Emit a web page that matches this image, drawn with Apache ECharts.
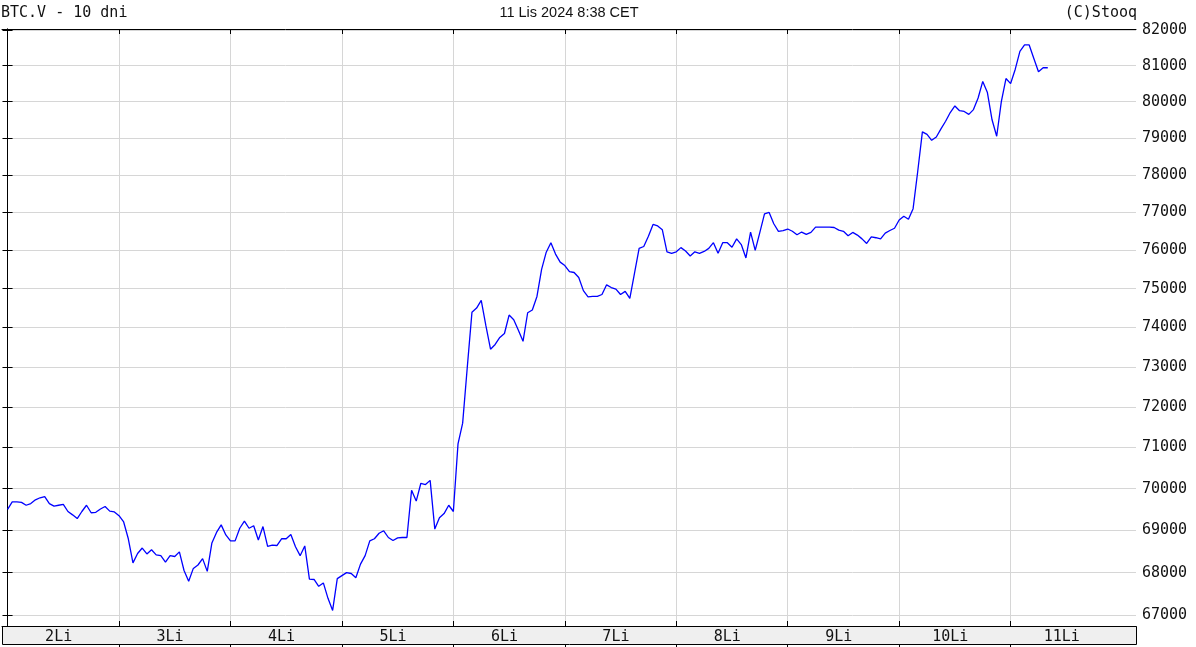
<!DOCTYPE html>
<html>
<head>
<meta charset="utf-8">
<title>BTC.V - 10 dni</title>
<script src="https://cdn.jsdelivr.net/npm/echarts@6/dist/echarts.min.js"></script>
<style>
html, body { margin: 0; padding: 0; background: #fff; }
#chart { width: 1196px; height: 647px; }
</style>
</head>
<body>
<div id="chart"></div>
<script>
// hourly quotes, hour 0 = first bar of 2 Nov
var startHour = 0;
var prices = [
  // 2Li
  69500, 69680, 69680, 69670, 69600, 69640, 69730, 69780, 69810, 69640, 69580, 69600,
  69620, 69450, 69370, 69280, 69450, 69600, 69420, 69430, 69510, 69570, 69460, 69440,
  // 3Li
  69350, 69200, 68800, 68230, 68450, 68580, 68440, 68540, 68420, 68400, 68250, 68400,
  68380, 68490, 68050, 67800, 68100, 68180, 68330, 68030, 68700, 68950, 69130, 68890,
  // 4Li
  68750, 68750, 69050, 69220, 69050, 69110, 68770, 69090, 68620, 68650, 68640, 68800,
  68800, 68900, 68610, 68400, 68630, 67850, 67840, 67680, 67760, 67400, 67120, 67860,
  // 5Li
  67930, 68000, 67980, 67880, 68200, 68400, 68750, 68800, 68930, 68990, 68830, 68760,
  68820, 68830, 68830, 69960, 69700, 70130, 70100, 70200, 69030, 69300, 69400, 69600,
  // 6Li
  69450, 71090, 71600, 73000, 74390, 74500, 74700, 74050, 73450, 73570, 73750, 73850,
  74320, 74200, 73930, 73650, 74380, 74450, 74800, 75500, 75950, 76200, 75900, 75690,
  // 7Li
  75600, 75440, 75420, 75290, 74950, 74790, 74800, 74800, 74850, 75100, 75030, 74990,
  74850, 74930, 74750, 75400, 76050, 76100, 76370, 76680, 76640, 76540, 75960, 75920,
  // 8Li
  75960, 76070, 75980, 75850, 75960, 75920, 75970, 76050, 76200, 75920, 76200, 76200,
  76080, 76300, 76150, 75800, 76480, 76000, 76470, 76960, 77000, 76700, 76500, 76520,
  // 9Li
  76560, 76500, 76410, 76480, 76420, 76470, 76610, 76610, 76610, 76610, 76600, 76530,
  76500, 76380, 76470, 76400, 76300, 76180, 76350, 76330, 76300, 76450, 76520, 76580,
  // 10Li
  76800, 76900, 76820, 77100, 78100, 79170, 79100, 78940, 79030, 79250, 79460, 79700,
  79880, 79750, 79730, 79650, 79780, 80100, 80560, 80250, 79500, 79050, 80000, 80640,
  // 11Li
  80500, 80900, 81400, 81580, 81580, 81200, 80830, 80940, 80940
];

var dayLabels = ['2Li', '3Li', '4Li', '5Li', '6Li', '7Li', '8Li', '9Li', '10Li', '11Li'];
var dayTicks = [24, 48, 72, 96, 120, 144, 168, 192, 216];
var dayLabelHours = [11, 35, 59, 83, 107, 131, 155, 179, 203, 227];
var priceLevels = [67000, 68000, 69000, 70000, 71000, 72000, 73000, 74000,
                   75000, 76000, 77000, 78000, 79000, 80000, 81000, 82000];

var FONT = 'DejaVu Sans Mono';
var hourMin = -1.2, hourMax = 243;
var priceMin = 66760, priceMax = 82030;

// log price scale
var lnLevels = priceLevels.map(function (p) { return Math.log(p); });
var lineData = prices.map(function (p, i) { return [startHour + i, Math.log(p)]; });

var chart = echarts.init(document.getElementById('chart'));

var xBase = { type: 'value', min: hourMin, max: hourMax, gridIndex: 0 };
var yBase = { type: 'value', min: Math.log(priceMin), max: Math.log(priceMax), gridIndex: 0, scale: true };

chart.setOption({
  animation: false,
  grid: { left: 2, right: 60, top: 29, bottom: 21, containLabel: false },
  xAxis: [
    echarts.util.merge({
      position: 'bottom',
      axisLine: { lineStyle: { color: '#000', width: 1 } },
      axisTick: { customValues: dayTicks, inside: true, length: 5, lineStyle: { color: '#000' } },
      axisLabel: {
        customValues: dayLabelHours,
        margin: 4,
        fontFamily: FONT,
        fontSize: 15,
        color: '#111',
        formatter: function (v) { return dayLabels[Math.round((v - 11) / 24)]; }
      },
      splitLine: { show: true, lineStyle: { color: '#d6d6d6', width: 1 } }
    }, xBase, true),
    echarts.util.merge({
      position: 'top',
      axisLine: { lineStyle: { color: '#000', width: 1 } },
      axisTick: { customValues: dayTicks, inside: true, length: 5, lineStyle: { color: '#000' } },
      axisLabel: { show: false },
      splitLine: { show: false }
    }, xBase, true),
    echarts.util.merge({
      position: 'bottom',
      offset: 18,
      axisLine: { show: false },
      axisTick: { customValues: dayTicks, inside: false, length: 3, lineStyle: { color: '#000' } },
      axisLabel: { show: false },
      splitLine: { show: false }
    }, xBase, true)
  ],
  yAxis: [
    echarts.util.merge({
      position: 'right',
      axisLine: { show: true, lineStyle: { color: '#000', width: 1 } },
      axisTick: { show: true, customValues: lnLevels, inside: true, length: 5, lineStyle: { color: '#000' } },
      axisLabel: {
        customValues: lnLevels,
        margin: 6,
        fontFamily: FONT,
        fontSize: 15,
        color: '#111',
        formatter: function (v) { return String(Math.round(Math.exp(v) / 1000) * 1000); }
      },
      splitLine: { show: true, lineStyle: { color: '#d6d6d6', width: 1 } }
    }, yBase, true),
    echarts.util.merge({
      position: 'left',
      axisLine: { show: true, lineStyle: { color: '#000', width: 1 } },
      axisTick: { show: true, customValues: lnLevels, inside: true, length: 5, lineStyle: { color: '#000' } },
      axisLabel: { show: false },
      splitLine: { show: false }
    }, yBase, true)
  ],
  graphic: [
    {
      type: 'rect', z: -1,
      shape: { x: 2.5, y: 626.5, width: 1134, height: 18 },
      style: { fill: '#efefef', stroke: '#000', lineWidth: 1 }
    },
    {
      type: 'text', x: 1, y: 13,
      style: { text: 'BTC.V - 10 dni', font: '15px "DejaVu Sans Mono"', fill: '#111', textAlign: 'left', textVerticalAlign: 'middle' }
    },
    {
      type: 'text', x: 569, y: 13,
      style: { text: '11 Lis 2024 8:38 CET', font: '14.5px "Liberation Sans"', fill: '#111', textAlign: 'center', textVerticalAlign: 'middle' }
    },
    {
      type: 'text', x: 1137, y: 13,
      style: { text: '(C)Stooq', font: '15px "DejaVu Sans Mono"', fill: '#111', textAlign: 'right', textVerticalAlign: 'middle' }
    }
  ],
  series: [{
    name: 'BTC.V',
    type: 'line',
    xAxisIndex: 0,
    yAxisIndex: 0,
    data: lineData,
    symbol: 'none',
    sampling: false,
    lineStyle: { color: '#0000ff', width: 1.3 },
    z: 5
  }]
});
</script>
</body>
</html>
